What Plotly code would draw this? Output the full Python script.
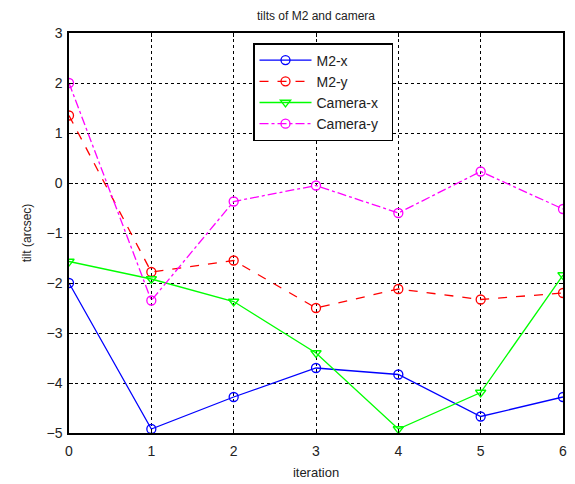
import plotly.graph_objects as go

iteration = [0, 1, 2, 3, 4, 5, 6]
m2_x = [-2.0, -4.92, -4.28, -3.7, -3.83, -4.67, -4.28]
m2_y = [1.35, -1.78, -1.55, -2.5, -2.12, -2.33, -2.2]
camera_x = [-1.57, -1.92, -2.37, -3.4, -4.92, -4.19, -1.84]
camera_y = [2.0, -2.35, -0.37, -0.05, -0.6, 0.23, -0.52]

series = [
    ("M2-x", m2_x, "#0000ff", "solid", "circle-open"),
    ("M2-y", m2_y, "#ff0000", "dash", "circle-open"),
    ("Camera-x", camera_x, "#00ff00", "solid", "triangle-down-open"),
    ("Camera-y", camera_y, "#ff00ff", "dashdot", "circle-open"),
]

FONT = "Liberation Sans, Arial"

fig = go.Figure()
for name, vals, color, dash, sym in series:
    fig.add_trace(go.Scatter(
        x=iteration, y=vals, name=name + "\u00a0\u00a0", mode="lines+markers",
        line=dict(color=color, width=1.3, dash=dash),
        marker=dict(symbol=sym, size=9, color=color, line=dict(width=1.3, color=color)),
    ))

axis_common = dict(
    showline=True, mirror="ticks", linecolor="black", linewidth=1.5,
    ticks="inside", ticklen=4, tickcolor="black",
    showgrid=True, gridcolor="black", griddash="dot", gridwidth=1,
    zeroline=False, automargin=False,
    tickfont=dict(family=FONT, size=14, color="#222"),
)

fig.update_layout(
    width=575, height=484,
    margin=dict(l=69, r=12, t=33, b=51),
    paper_bgcolor="white", plot_bgcolor="white",
    title=dict(text="tilts of M2 and camera", x=(69 + 563) / 2 / 575, xanchor="center",
               y=1 - 16 / 484, yanchor="middle",
               font=dict(family=FONT, size=12, color="#222")),
    xaxis=dict(range=[0, 6], dtick=1, ticklabelstandoff=4,
               title=dict(text="iteration", standoff=10,
                          font=dict(family=FONT, size=13, color="#222")), **axis_common),
    yaxis=dict(range=[-5, 3], dtick=1, ticklabelstandoff=2,
               title=dict(text="tilt (arcsec)", standoff=12,
                          font=dict(family=FONT, size=12, color="#222")), **axis_common),
    legend=dict(x=(253 - 69) / 494, y=1 - 10 / 400, xanchor="left", yanchor="top",
                bordercolor="black", borderwidth=1.5, bgcolor="white",
                itemwidth=52, tracegroupgap=0,
                font=dict(family=FONT, size=14, color="#222")),
    showlegend=True,
)

fig.write_html("out.html")
